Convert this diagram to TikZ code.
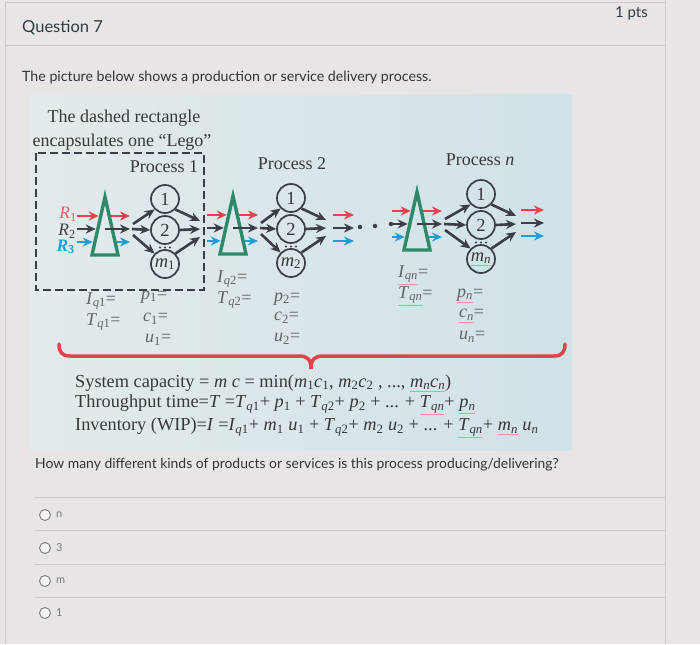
\documentclass[tikz,border=0pt]{standalone}
\usepackage{fontspec}
\setmainfont{Liberation Serif}
\newfontfamily\canvasfont{Lato}
\usetikzlibrary{arrows.meta}

\definecolor{pagebg}{HTML}{E9E5E4}
\definecolor{cardline}{HTML}{CFCAC9}
\definecolor{panelL}{HTML}{E3EAEB}
\definecolor{panelR}{HTML}{D0E2E8}
\definecolor{flowred}{HTML}{E5424C}
\definecolor{flowblue}{HTML}{1C9ED6}
\definecolor{flowgrey}{HTML}{3B3E46}
\definecolor{queuegreen}{HTML}{2C8A69}
\definecolor{inkgrey}{HTML}{383838}
\definecolor{labelgrey}{HTML}{636363}
\definecolor{uitext}{HTML}{343434}
\definecolor{uihead}{HTML}{2D3B45}
\definecolor{optgrey}{HTML}{7A7A7A}

\newcommand\vsub[2]{\textit{#1}\textsubscript{#2}}
\newcommand\spellul[1]{\colorlet{ulkeep}{.}\textcolor{flowred!55}{\underline{\textcolor{ulkeep}{#1}}}}

\begin{document}
\begin{tikzpicture}[x=1pt,y=-1pt,
    proc/.style={circle,draw=flowgrey,line width=1.7pt,minimum size=28pt,inner sep=0pt,text=inkgrey,font=\fontsize{18.5}{18}\selectfont},
    queue/.style={draw=queuegreen,line width=3.4pt,line join=miter},
    flowarrow/.style={line width=2.6pt,-{Stealth[length=10pt,width=9pt]}},
    bead/.style={circle,fill=flowgrey,inner sep=0pt,minimum size=4.5pt},
    speck/.style={circle,fill=flowgrey,inner sep=0pt,minimum size=2.2pt},
    note/.style={inner sep=0pt,text=inkgrey,font=\fontsize{18}{20}\selectfont},
    qlabel/.style={inner sep=0pt,anchor=west,text=labelgrey,font=\fontsize{18}{18}\selectfont},
    formula/.style={inner sep=0pt,anchor=west,text=inkgrey,font=\fontsize{18.3}{19}\selectfont},
    ui/.style={inner sep=0pt,anchor=west,text=uitext,font=\canvasfont\fontsize{14.2}{15}\selectfont},
    radio/.style={circle,draw=optgrey,line width=0.9pt,minimum size=11pt,inner sep=0pt,fill=white!50!pagebg}
]
    \useasboundingbox (0,0) rectangle (700,644);
    \fill[pagebg] (0,0) rectangle (700,644);
    \draw[cardline,line width=1pt] (5,3) -- (665,3) (5,3) -- (5,644) (665,0) -- (665,644) (5,46) -- (665,46);
    \shade[left color=panelL,right color=panelR] (30,95) rectangle (572,450);

    % header
    \node[anchor=west,inner sep=0pt,text=uihead,font=\canvasfont\fontsize{16.5}{17}\selectfont] (qtitle) at (22,28) {Question 7};
    \node[anchor=east,inner sep=0pt,text=uihead,font=\canvasfont\fontsize{15}{15}\selectfont] (points) at (648,13) {1 pts};
    \node[ui] (intro) at (22,77) {The picture below shows a production or service delivery process.};

    % the lego
    \node[note] (caption1) at (124,118) {The dashed rectangle};
    \node[note] (caption2) at (122,142) {encapsulates one “Lego”};
    \draw[flowgrey,line width=1.3pt,dash pattern=on 8pt off 4pt] (36,153) rectangle (204,290);
    \node[note] (title1) at (164,167) {Process 1};
    \node[note] (title2) at (292,164) {Process 2};
    \node[note] (titlen) at (480,160) {Process \textit{n}};

    % queue, servers and flows of each process
    \foreach \i/\tx/\cx/\xin/\dy/\ml in {1/105/165/77/0/{\vsub{m}{1}},
        2/233/291/207/-1/{\vsub{m}{2}}, n/417/481/392/-5/{\spellul{\vsub{m}{\textit{n}}}}}{
        \coordinate (top\i) at (\tx,197+\dy);
        \draw[queue] (top\i) -- ++(13,58) -- ++(-26,0) -- cycle;
        \node[proc] (one\i) at (\cx,199+\dy) {1};
        \node[proc] (two\i) at (\cx,230+\dy) {2};
        \node[proc] (last\i) at (\cx,264+\dy) {\ml};
        \foreach \k in {-5,0,5}
            \node[speck] (gap\i\k) at (\cx+\k,247.5+\dy) {};
        \foreach \col/\y/\w/\s in {flowred/216/4.5/6, flowgrey/229/7.5/0, flowblue/242/10.5/12}{
            \coordinate (\col in\i) at (\xin,\y+\dy);
            \coordinate (\col q\i) at (\tx-\w-1.8,\y+\dy);
            \coordinate (\col out\i) at (\tx+\s,\y+\dy);
            \coordinate (\col end\i) at (\tx+25,\y+\dy);
            \draw[flowarrow,\col] (\col in\i) -- (\col q\i);
            \draw[flowarrow,\col] (\col out\i) -- (\col end\i);
        }
        % split to the servers
        \coordinate (up\i) at (\tx+28,224+\dy);
        \coordinate (mid\i) at (\tx+27,229+\dy);
        \coordinate (down\i) at (\tx+28,235+\dy);
        \draw[flowarrow,flowgrey] (up\i) -- (one\i.south west);
        \draw[flowarrow,flowgrey] (mid\i) -- (two\i.west);
        \draw[flowarrow,flowgrey] (down\i) -- (last\i.north west);
        % merge after the servers
        \coordinate (mergeA\i) at (\cx+35,221+\dy);
        \coordinate (mergeB\i) at (\cx+35,229+\dy);
        \coordinate (mergeC\i) at (\cx+35,237+\dy);
        \draw[flowarrow,flowgrey] (one\i.south east) -- (mergeA\i);
        \draw[flowarrow,flowgrey] (two\i.east) -- (mergeB\i);
        \draw[flowarrow,flowgrey] (last\i.north east) -- (mergeC\i);
    }

    % leaving process 2 and process n
    \foreach \col/\y in {flowred/216, flowgrey/229, flowblue/242}{
        \coordinate (\col post2) at (333,\y-1);
        \coordinate (\col stop2) at (354,\y-1);
        \coordinate (\col postn) at (521,\y-6);
        \coordinate (\col stopn) at (544,\y-6);
        \draw[flowarrow,\col] (\col post2) -- (\col stop2);
        \draw[flowarrow,\col] (\col postn) -- (\col stopn);
    }
    \node[bead] (bead1) at (360,227) {};
    \node[bead] (bead2) at (375,226) {};
    \node[bead] (bead3) at (391,224) {};

    % raw materials
    \node[anchor=east,inner sep=0pt,text=flowred!85,font=\fontsize{17.5}{17}\selectfont] (r1) at (77,214) {\vsub{R}{1}};
    \node[anchor=east,inner sep=0pt,text=flowgrey,font=\fontsize{17.5}{17}\selectfont] (r2) at (76,231) {\vsub{R}{2}};
    \node[anchor=east,inner sep=0pt,text=flowblue,font=\bfseries\fontsize{17.5}{17}\selectfont] (r3) at (75,247) {\vsub{R}{3}};

    % process data
    \node[qlabel] (iq1) at (86,301) {\vsub{I}{\textit{q}1}=};
    \node[qlabel] (tq1) at (86,322) {\vsub{T}{\textit{q}1}=};
    \node[qlabel] (p1) at (141,297) {\vsub{p}{1}=};
    \node[qlabel] (c1) at (143,319) {\vsub{c}{1}=};
    \node[qlabel] (u1) at (145,340) {\vsub{u}{1}=};
    \node[qlabel] (iq2) at (217,279) {\vsub{I}{\textit{q}2}=};
    \node[qlabel] (tq2) at (217,300) {\vsub{T}{\textit{q}2}=};
    \node[qlabel] (p2) at (274,299) {\vsub{p}{2}=};
    \node[qlabel] (c2) at (274,318) {\vsub{c}{2}=};
    \node[qlabel] (u2) at (274,339) {\vsub{u}{2}=};
    \node[qlabel] (iqn) at (398,275) {\spellul{\vsub{I}{\textit{qn}}}=};
    \node[qlabel] (tqn) at (398,296) {\spellul{\vsub{T}{\textit{qn}}}=};
    \node[qlabel] (pn) at (457,296) {\spellul{\vsub{p}{\textit{n}}}=};
    \node[qlabel] (cn) at (459,316) {\spellul{\vsub{c}{\textit{n}}}=};
    \node[qlabel] (un) at (459,337) {\vsub{u}{\textit{n}}=};

    % brace and system measures
    \draw[flowred,line width=3.5pt,line cap=round] (59,344) .. controls (59,352) and (62,356) .. (70,356)
        -- (299,356) .. controls (307,356) and (311,359) .. (311,369)
        .. controls (311,359) and (315,356) .. (323,356) -- (554,356)
        .. controls (562,356) and (565,352) .. (565,344);
    \node[formula] (capacity) at (75,383) {System capacity = \textit{m c} = min(\vsub{m}{1}\vsub{c}{1}, \vsub{m}{2}\vsub{c}{2} , ..., \spellul{\vsub{m}{\textit{n}}\vsub{c}{\textit{n}}})};
    \node[formula] (throughput) at (75,405) {Throughput time=\textit{T} =\vsub{T}{\textit{q}1}+ \vsub{p}{1} + \vsub{T}{\textit{q}2}+ \vsub{p}{2} + ... + \spellul{\vsub{T}{\textit{qn}}}+ \spellul{\vsub{p}{\textit{n}}}};
    \node[formula] (inventory) at (75,428) {Inventory (WIP)=\textit{I} =\vsub{I}{\textit{q}1}+ \vsub{m}{1} \vsub{u}{1} + \vsub{T}{\textit{q}2}+ \vsub{m}{2} \vsub{u}{2} + ... + \spellul{\vsub{T}{\textit{qn}}}+ \spellul{\vsub{m}{\textit{n}}} \vsub{u}{\textit{n}}};

    % question and answers
    \node[ui,font=\canvasfont\fontsize{13.9}{15}\selectfont] (ask) at (35,465) {How many different kinds of products or services is this process producing/delivering?};
    \foreach \y in {497,530,564,597}
        \draw[cardline,line width=0.8pt] (35,\y) -- (665,\y);
    \foreach \o/\y in {n/515,3/548,m/581,1/613}{
        \node[radio] (radio\o) at (45,\y) {};
        \node[anchor=west,inner sep=0pt,text=optgrey,font=\canvasfont\fontsize{11}{11}\selectfont] (answer\o) at (56,\y) {\o};
    }
\end{tikzpicture}
\end{document}
